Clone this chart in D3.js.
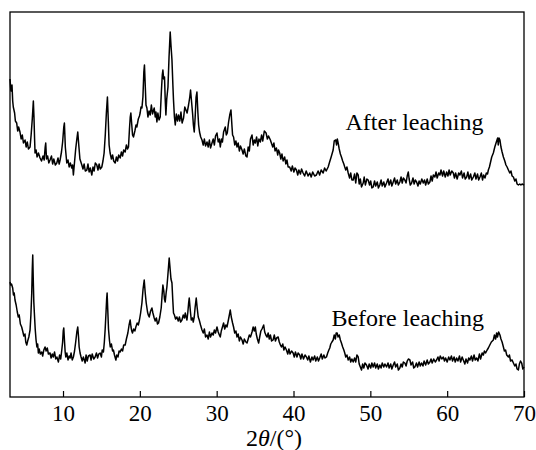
<!DOCTYPE html>
<html>
<head>
<meta charset="utf-8">
<script src="https://cdn.jsdelivr.net/npm/d3@7"></script>
<style>
  body { margin: 0; background: #fff; }
  svg { display: block; }
  .label { font-family: "Liberation Serif", "Times New Roman", serif; font-size: 24px; fill: #000; }
</style>
</head>
<body>
<script>
const width = 536;
const height = 450;
const margin = { top: 12, right: 12, bottom: 53, left: 10 };
const serif = "'Liberation Serif', 'Times New Roman', serif";

// x tick values, 2theta in degrees
const xTicks = [10, 20, 30, 40, 50, 60, 70];

// [2theta, intensity (a.u.)]
const afterLeaching = [
  [3.10,318],[3.22,306],[3.36,312],[3.45,296],[3.53,290],[3.70,284],[3.80,276],[3.97,274],[4.10,266],[4.22,270],
  [4.40,265],[4.55,258],[4.70,262],[4.85,254],[5.06,257],[5.20,250],[5.35,255],[5.50,248],[5.71,250],[5.85,262],
  [6.00,278],[6.14,296],[6.22,280],[6.30,258],[6.36,244],[6.50,247],[6.62,240],[6.80,244],[7.01,239],[7.20,236],
  [7.40,241],[7.55,237],[7.68,250],[7.75,254],[7.85,238],[8.00,241],[8.15,234],[8.31,237],[8.50,241],[8.65,233],
  [8.80,238],[9.00,232],[9.19,234],[9.35,239],[9.50,233],[9.62,237],[9.80,245],[9.95,255],[10.10,270],[10.18,274],
  [10.30,250],[10.49,234],[10.65,237],[10.80,230],[10.95,234],[11.14,229],[11.25,232],[11.35,222],[11.50,235],[11.65,248],
  [11.80,258],[11.92,265],[12.05,252],[12.20,238],[12.45,232],[12.60,228],[12.75,233],[12.90,226],[13.10,227],[13.25,233],
  [13.40,225],[13.55,229],[13.75,222],[13.90,230],[14.05,226],[14.20,234],[14.40,232],[14.55,227],[14.70,233],[14.85,228],
  [15.05,230],[15.20,236],[15.35,244],[15.50,262],[15.65,285],[15.78,300],[15.90,275],[16.00,252],[16.13,244],[16.30,238],
  [16.45,242],[16.60,236],[16.79,234],[16.95,240],[17.10,236],[17.25,242],[17.44,239],[17.60,245],[17.75,241],[17.90,247],
  [18.09,245],[18.25,252],[18.40,248],[18.52,250],[18.65,268],[18.75,280],[18.83,284],[18.95,272],[19.05,262],[19.17,260],
  [19.35,266],[19.50,272],[19.61,270],[19.80,278],[19.95,281],[20.04,284],[20.15,290],[20.27,289],[20.40,300],[20.52,325],
  [20.60,332],[20.70,312],[20.80,292],[20.92,289],[21.05,280],[21.20,286],[21.35,282],[21.50,292],[21.65,283],[21.87,289],
  [22.00,280],[22.10,285],[22.22,275],[22.35,284],[22.50,277],[22.65,280],[22.80,305],[22.92,322],[23.00,327],[23.10,318],
  [23.21,320],[23.30,298],[23.39,282],[23.50,298],[23.66,310],[23.80,340],[23.95,365],[24.05,352],[24.18,337],[24.30,312],
  [24.38,297],[24.50,280],[24.61,272],[24.75,283],[24.90,276],[25.04,282],[25.20,276],[25.35,285],[25.50,274],[25.69,279],
  [25.85,290],[26.00,287],[26.15,284],[26.34,292],[26.50,300],[26.60,307],[26.70,298],[26.86,284],[26.97,272],[27.08,265],
  [27.20,280],[27.32,300],[27.43,305],[27.55,285],[27.65,272],[27.77,265],[27.92,260],[28.09,257],[28.25,252],[28.40,258],
  [28.55,251],[28.74,255],[28.90,250],[29.05,257],[29.20,249],[29.39,254],[29.55,258],[29.70,252],[29.85,261],[30.04,264],
  [30.20,255],[30.35,258],[30.47,250],[30.62,258],[30.75,255],[30.90,265],[31.12,270],[31.25,262],[31.38,264],[31.55,275],
  [31.70,282],[31.86,287],[31.98,272],[32.07,262],[32.20,260],[32.35,252],[32.50,256],[32.65,250],[32.80,254],[32.95,246],
  [33.10,251],[33.30,247],[33.45,243],[33.60,248],[33.80,241],[33.95,240],[34.10,250],[34.25,246],[34.40,258],[34.60,262],
  [34.75,252],[34.90,257],[35.03,254],[35.20,260],[35.35,251],[35.50,258],[35.68,255],[35.85,262],[36.00,256],[36.20,266],
  [36.43,264],[36.60,258],[36.75,261],[36.99,257],[37.12,254],[37.30,250],[37.45,254],[37.60,246],[37.77,249],[37.95,242],
  [38.05,247],[38.20,244],[38.35,238],[38.50,243],[38.65,236],[38.85,240],[39.00,233],[39.15,237],[39.30,230],[39.50,230],
  [39.70,226],[39.85,231],[40.05,225],[40.20,229],[40.38,227],[40.55,222],[40.70,227],[40.90,223],[41.05,228],[41.25,224],
  [41.45,221],[41.65,226],[41.90,221],[42.11,224],[42.30,220],[42.50,225],[42.75,221],[42.98,222],[43.20,226],[43.40,222],
  [43.60,227],[43.86,224],[44.05,229],[44.25,226],[44.51,230],[44.70,235],[44.90,240],[45.16,247],[45.30,256],[45.50,257],
  [45.60,252],[45.70,258],[45.81,254],[45.95,248],[46.10,243],[46.24,240],[46.40,236],[46.55,233],[46.67,230],[46.80,227],
  [46.95,230],[47.12,224],[47.30,219],[47.45,224],[47.60,217],[47.77,217],[47.95,223],[48.10,214],[48.25,224],[48.42,222],
  [48.55,213],[48.70,218],[48.85,210],[49.07,214],[49.20,220],[49.35,212],[49.55,218],[49.72,217],[49.90,212],[50.05,216],
  [50.20,209],[50.37,210],[50.55,216],[50.70,211],[50.90,215],[51.05,209],[51.23,212],[51.40,217],[51.55,211],[51.75,215],
  [51.90,210],[52.11,214],[52.30,218],[52.45,212],[52.65,217],[52.80,211],[52.98,215],[53.15,219],[53.30,213],[53.50,217],
  [53.65,212],[53.84,215],[54.00,220],[54.15,214],[54.30,219],[54.49,217],[54.65,214],[54.80,221],[54.94,225],[55.05,218],
  [55.20,212],[55.37,214],[55.55,219],[55.70,213],[55.85,217],[56.02,215],[56.20,211],[56.35,216],[56.50,213],[56.70,218],
  [56.89,214],[57.05,217],[57.20,212],[57.40,218],[57.55,213],[57.75,215],[57.90,221],[58.05,216],[58.20,222],[58.40,220],
  [58.55,225],[58.70,219],[58.90,224],[59.06,222],[59.20,227],[59.40,221],[59.55,226],[59.75,220],[59.93,225],[60.10,221],
  [60.25,227],[60.40,222],[60.60,226],[60.80,224],[60.95,219],[61.10,224],[61.30,218],[61.50,224],[61.66,222],[61.85,226],
  [62.00,219],[62.20,224],[62.35,218],[62.54,220],[62.70,225],[62.85,218],[63.05,223],[63.20,217],[63.41,220],[63.60,224],
  [63.75,218],[63.95,223],[64.10,217],[64.27,220],[64.45,224],[64.60,217],[64.75,222],[64.92,219],[65.10,224],[65.25,223],
  [65.36,227],[65.50,230],[65.65,235],[65.80,240],[66.01,244],[66.20,250],[66.40,255],[66.57,259],[66.65,252],[66.75,259],
  [66.87,257],[67.00,250],[67.15,245],[67.32,240],[67.50,236],[67.65,232],[67.80,230],[67.97,227],[68.15,224],[68.30,226],
  [68.45,221],[68.62,220],[68.80,216],[68.95,218],[69.10,213],[69.27,212],[69.45,213],[69.60,212],[69.75,213],[70.00,212]
];

const beforeLeaching = [
  [3.10,115],[3.20,112],[3.30,113],[3.45,109],[3.55,102],[3.65,104],[3.75,97],[3.90,92],[4.05,85],[4.18,80],
  [4.30,82],[4.45,73],[4.62,70],[4.75,66],[4.90,61],[5.05,63],[5.15,55],[5.28,52],[5.40,56],[5.55,60],
  [5.71,67],[5.82,82],[5.93,104],[6.00,128],[6.06,142],[6.12,120],[6.20,95],[6.27,84],[6.38,68],[6.49,57],
  [6.60,50],[6.70,53],[6.79,44],[6.90,48],[7.05,43],[7.23,45],[7.35,41],[7.50,47],[7.66,50],[7.80,46],
  [7.95,49],[8.10,43],[8.31,44],[8.45,39],[8.60,43],[8.74,40],[8.90,45],[9.05,38],[9.20,40],[9.40,35],
  [9.55,42],[9.70,38],[9.84,47],[9.95,55],[10.03,66],[10.10,69],[10.20,55],[10.28,45],[10.36,40],[10.50,44],
  [10.65,37],[10.80,41],[10.92,39],[11.05,44],[11.20,37],[11.35,40],[11.50,46],[11.65,55],[11.80,65],[11.92,70],
  [12.02,60],[12.10,50],[12.22,44],[12.35,40],[12.50,36],[12.65,40],[12.88,34],[13.00,42],[13.15,36],[13.30,41],
  [13.53,42],[13.65,37],[13.80,43],[14.00,38],[14.18,40],[14.35,44],[14.50,39],[14.65,43],[14.83,44],[15.00,40],
  [15.10,47],[15.26,45],[15.38,55],[15.48,67],[15.60,85],[15.68,98],[15.74,104],[15.82,88],[15.92,68],[16.04,57],
  [16.15,50],[16.30,53],[16.45,46],[16.56,47],[16.70,42],[16.88,37],[17.00,42],[17.15,40],[17.30,46],[17.44,45],
  [17.60,48],[17.75,46],[17.90,52],[18.09,52],[18.25,58],[18.44,64],[18.60,72],[18.74,77],[18.85,70],[18.95,66],
  [19.04,64],[19.20,68],[19.35,66],[19.48,70],[19.65,74],[19.80,72],[19.95,77],[20.10,84],[20.27,94],[20.42,108],
  [20.57,117],[20.70,104],[20.83,94],[21.00,85],[21.10,82],[21.22,80],[21.40,86],[21.57,89],[21.70,84],[21.87,79],
  [22.00,76],[22.15,79],[22.30,73],[22.43,74],[22.60,80],[22.78,89],[22.90,102],[23.00,112],[23.12,106],[23.20,98],
  [23.30,95],[23.42,104],[23.52,110],[23.65,122],[23.75,132],[23.82,139],[23.92,130],[24.05,118],[24.18,114],[24.28,98],
  [24.38,84],[24.50,82],[24.65,78],[24.82,80],[25.00,76],[25.15,80],[25.30,75],[25.48,77],[25.65,82],[25.80,79],
  [25.91,84],[26.02,80],[26.13,77],[26.25,85],[26.35,94],[26.43,99],[26.55,88],[26.69,77],[26.85,79],[26.95,75],
  [27.08,80],[27.20,90],[27.34,99],[27.45,90],[27.60,80],[27.73,77],[27.90,72],[28.09,67],[28.25,64],[28.40,68],
  [28.55,60],[28.74,62],[28.90,58],[29.05,65],[29.20,60],[29.39,64],[29.55,62],[29.70,67],[29.85,64],[30.04,70],
  [30.20,65],[30.35,62],[30.47,60],[30.60,66],[30.75,70],[30.90,74],[31.05,68],[31.20,72],[31.34,70],[31.50,76],
  [31.65,82],[31.77,87],[31.90,80],[32.07,74],[32.20,70],[32.35,64],[32.50,66],[32.65,60],[32.80,63],[32.95,56],
  [33.10,60],[33.30,57],[33.45,53],[33.60,58],[33.80,55],[33.95,54],[34.10,58],[34.25,62],[34.40,60],[34.60,65],
  [34.75,70],[34.90,66],[35.03,70],[35.15,63],[35.30,58],[35.46,54],[35.60,60],[35.75,66],[35.90,68],[36.12,72],
  [36.25,65],[36.40,62],[36.56,60],[36.70,64],[36.85,58],[36.99,62],[37.15,56],[37.34,57],[37.50,62],[37.65,56],
  [37.80,59],[38.00,60],[38.15,55],[38.30,52],[38.43,50],[38.60,53],[38.75,47],[38.90,50],[39.08,47],[39.25,43],
  [39.40,48],[39.55,43],[39.75,46],[39.95,44],[40.10,40],[40.25,45],[40.45,40],[40.60,44],[40.81,42],[40.95,38],
  [41.10,43],[41.30,38],[41.50,42],[41.68,40],[41.85,37],[42.00,41],[42.20,35],[42.40,40],[42.55,37],[42.75,41],
  [42.90,36],[43.10,40],[43.25,36],[43.41,39],[43.60,43],[43.75,38],[43.95,42],[44.10,39],[44.29,40],[44.45,44],
  [44.60,47],[44.72,49],[44.85,53],[45.00,55],[45.16,57],[45.30,62],[45.45,58],[45.55,64],[45.68,64],[45.80,60],
  [45.95,62],[46.10,57],[46.24,54],[46.40,50],[46.55,47],[46.67,44],[46.80,40],[46.95,42],[47.12,37],[47.30,40],
  [47.45,35],[47.60,38],[47.77,35],[47.95,39],[48.10,35],[48.25,42],[48.42,40],[48.55,33],[48.70,30],[48.85,27],
  [49.00,33],[49.15,29],[49.30,34],[49.50,32],[49.70,28],[49.85,33],[50.05,29],[50.20,34],[50.37,30],[50.55,34],
  [50.70,29],[50.90,33],[51.05,28],[51.23,32],[51.40,29],[51.55,34],[51.75,30],[51.90,33],[52.11,30],[52.30,34],
  [52.45,29],[52.65,33],[52.80,28],[52.98,32],[53.15,35],[53.30,30],[53.50,33],[53.65,27],[53.84,29],[54.00,33],
  [54.15,30],[54.30,35],[54.49,34],[54.65,31],[54.80,36],[54.95,38],[55.15,37],[55.30,32],[55.50,35],[55.65,29],
  [55.80,30],[56.00,34],[56.15,30],[56.35,35],[56.50,31],[56.67,34],[56.85,31],[57.00,36],[57.20,32],[57.40,37],
  [57.55,33],[57.75,35],[57.90,38],[58.05,34],[58.25,38],[58.45,35],[58.62,37],[58.80,40],[58.95,36],[59.10,41],
  [59.30,38],[59.50,40],[59.65,36],[59.80,39],[60.00,35],[60.20,40],[60.36,37],[60.55,41],[60.70,36],[60.90,40],
  [61.05,35],[61.23,39],[61.40,36],[61.60,41],[61.75,35],[61.95,40],[62.10,37],[62.30,33],[62.45,38],[62.65,34],
  [62.80,39],[62.96,37],[63.15,41],[63.30,36],[63.50,42],[63.65,37],[63.84,39],[64.00,36],[64.20,43],[64.35,38],
  [64.55,44],[64.71,42],[64.85,46],[65.00,44],[65.20,47],[65.36,49],[65.55,52],[65.75,55],[66.01,57],[66.15,62],
  [66.30,58],[66.44,64],[66.55,60],[66.70,65],[66.87,62],[67.00,58],[67.15,55],[67.32,50],[67.45,46],[67.60,47],
  [67.75,42],[67.97,40],[68.10,42],[68.25,36],[68.45,37],[68.62,34],[68.80,31],[68.95,33],[69.10,28],[69.27,27],
  [69.40,33],[69.55,36],[69.70,34],[69.85,28],[70.00,30]
];

// curve labels: [text, 2theta, intensity]
const labels = [
  ["After leaching", 46.77, 267],
  ["Before leaching", 44.94, 71]
];

const svg = d3.select("body").append("svg")
  .attr("width", width)
  .attr("height", height);

const x = d3.scaleLinear()
  .domain([3.1, 70])
  .range([margin.left, width - margin.right]);

const y = d3.scaleLinear()
  .domain([0, 385])
  .range([height - margin.bottom, margin.top]);

const line = d3.line()
  .x(d => x(d[0]))
  .y(d => y(d[1]));

// frame
svg.append("rect")
  .attr("x", margin.left)
  .attr("y", margin.top)
  .attr("width", width - margin.left - margin.right)
  .attr("height", height - margin.top - margin.bottom)
  .attr("fill", "none")
  .attr("stroke", "#000")
  .attr("stroke-width", 1.3);

// bottom axis, ticks pointing inward
const xAxis = d3.axisBottom(x)
  .tickValues(xTicks)
  .tickSizeInner(-6)
  .tickSizeOuter(0)
  .tickPadding(8)
  .tickFormat(d3.format("d"));

const gx = svg.append("g")
  .attr("transform", "translate(0," + (height - margin.bottom) + ")")
  .call(xAxis)
  .attr("font-family", serif)
  .attr("font-size", 23);
gx.select(".domain").remove();
gx.selectAll(".tick line").attr("stroke", "#000").attr("stroke-width", 1.2);
gx.selectAll(".tick text").attr("fill", "#000");

// the two patterns
[afterLeaching, beforeLeaching].forEach(series => {
  svg.append("path")
    .datum(series)
    .attr("fill", "none")
    .attr("stroke", "#000")
    .attr("stroke-width", 1.5)
    .attr("stroke-linejoin", "round")
    .attr("d", line);
});

svg.selectAll("text.curve")
  .data(labels)
  .enter()
  .append("text")
  .attr("class", "label curve")
  .attr("x", d => x(d[1]))
  .attr("y", d => y(d[2]))
  .text(d => d[0]);

// axis title
const title = svg.append("text")
  .attr("class", "label")
  .attr("x", 274)
  .attr("y", 446)
  .attr("text-anchor", "middle");
title.append("tspan").text("2");
title.append("tspan").attr("font-style", "italic").text("θ");
title.append("tspan").text("/(°)");
</script>
</body>
</html>
